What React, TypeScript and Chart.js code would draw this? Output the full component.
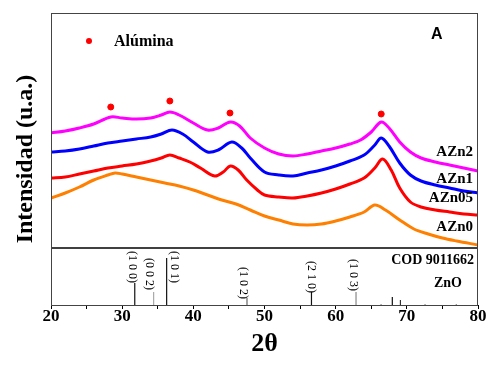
import React, { useEffect, useRef } from 'react';
import { Chart, registerables } from 'chart.js';

Chart.register(...registerables);

// ---- Data (2θ in degrees, intensity in arbitrary offset units) ----
const azn2Deg = [20, 22, 24, 26, 28.4, 30, 32, 34, 35.5, 36.7, 38, 40, 42, 43.5, 45.2, 46.5, 48, 50, 52, 54, 56, 58, 60, 62, 63.5, 65, 66.4, 67.5, 69, 70.5, 72, 74, 76, 78, 80];
const azn2Int = [172, 174, 177, 181, 188, 187, 186, 187, 190, 193, 190, 182, 175, 177, 183, 179, 167, 157, 151, 149, 151, 154, 157, 161, 165, 173, 183, 177, 163, 153, 147, 143, 140, 137, 134];

const azn1Deg = [20, 22, 24, 26, 28, 30, 32, 34, 35.5, 37, 38.5, 40, 42, 43.5, 45.4, 46.8, 48, 50, 52, 54, 56, 58, 60, 62, 64, 65.5, 66.4, 67.5, 69, 70.5, 72, 74, 76, 78, 80];
const azn1Int = [153, 154, 156, 159, 162, 164, 166, 168, 171, 175, 171, 163, 153, 155, 163, 157, 147, 133, 130, 129, 132, 135, 139, 144, 150, 160, 167, 159, 142, 130, 124, 120, 117, 114, 112];

const azn05Deg = [20, 22, 24, 26, 28, 30, 32, 34, 35.5, 36.7, 38, 39.5, 41, 43, 44.2, 45.2, 46.3, 47.5, 49, 50, 52, 54, 56, 58, 60, 62, 64, 65.5, 66.6, 67.8, 69, 70.5, 72, 74, 76, 78, 80];
const azn05Int = [127, 128, 131, 134, 137, 139, 141, 144, 147, 150, 147, 143, 137, 129, 133, 139, 135, 125, 115, 110, 108, 107, 109, 112, 116, 121, 127, 137, 146, 135, 117, 103, 98, 95, 93, 91, 90];

const azn0Deg = [20, 22, 24, 26, 28, 29, 30, 32, 34, 36, 38, 40, 42, 44, 46, 48, 50, 52, 54, 56, 58, 60, 62, 64, 65.5, 67, 69, 71, 73, 75, 77, 80];
const azn0Int = [107, 112, 118, 125, 130, 132, 131, 128, 125, 122, 119, 115, 110, 105, 101, 95, 89, 85, 81, 80, 81, 84, 88, 93, 100, 95, 85, 76, 71, 67, 64, 60];

const aluminaDeg = [28.4, 36.7, 45.15, 66.4];
const aluminaInt = [198, 204, 192, 191];

// ZnO reference pattern (COD 9011662)
const refDeg = [31.77, 34.42, 36.25, 47.54, 56.6, 62.86, 66.38, 67.96, 69.1, 72.56, 76.95];
const refInt = [22, 13, 47, 7, 13, 13, 1, 8, 5, 1, 1];
const hklText = ['(1 0 0)', '(0 0 2)', '(1 0 1)', '(1 0 2)', '(2 1 0)', '(1 0 3)'];

const seriesNames = ['AZn2', 'AZn1', 'AZn05', 'AZn0'];
const xTicks = [20, 30, 40, 50, 60, 70, 80];

// ---- Layout / style (kept apart from the data) ----
const seriesColors = ['#ff00ff', '#0000ff', '#ff0000', '#ff8000'];
const refColors = ['#111', '#aaa', '#111', '#666', '#111', '#888', '#888', '#111', '#333', '#888', '#888'];
const hklLabelDeg = [31.35, 33.77, 37.28, 46.98, 56.53, 62.43];
const hklLabelY = [38, 31, 38, 22, 28, 30];
const seriesLabelY = [153, 126, 107, 78];
const separatorY = 57;
const SERIF = '"Liberation Serif", "Times New Roman", serif';

export default function App() {
  const ref = useRef<HTMLCanvasElement | null>(null);

  useEffect(() => {
    document.body.style.margin = '0';
    const canvas = ref.current;
    if (!canvas) return;

    const lineSets = [
      [azn2Deg, azn2Int],
      [azn1Deg, azn1Int],
      [azn05Deg, azn05Int],
      [azn0Deg, azn0Int],
    ].map(([xs, ys], i) => ({
      type: 'line' as const,
      data: xs.map((x, j) => ({ x, y: ys[j] })),
      borderColor: seriesColors[i],
      borderWidth: 3,
      pointRadius: 0,
      tension: 0.35,
      order: 2,
    }));

    const stickSets = refDeg.map((p, i) => ({
      type: 'line' as const,
      data: [{ x: p, y: 0 }, { x: p, y: refInt[i] }],
      borderColor: refColors[i],
      borderWidth: 1.2,
      pointRadius: 0,
      order: 3,
    }));

    const separator = {
      type: 'line' as const,
      data: [{ x: 20, y: separatorY }, { x: 80, y: separatorY }],
      borderColor: '#000',
      borderWidth: 1.5,
      pointRadius: 0,
      order: 3,
    };

    const dots = {
      type: 'scatter' as const,
      data: aluminaDeg.map((x, i) => ({ x, y: aluminaInt[i] })),
      backgroundColor: '#ff0000',
      borderColor: '#ff0000',
      pointRadius: 3,
      showLine: false,
      order: 1,
    };

    const textPlugin = {
      id: 'texts',
      afterDatasetsDraw(chart: any) {
        const { ctx, chartArea, scales } = chart;
        const xs = scales.x;
        const ys = scales.y;
        ctx.save();
        // frame
        ctx.strokeStyle = '#444';
        ctx.lineWidth = 1;
        ctx.strokeRect(chartArea.left + 0.5, chartArea.top + 0.5, chartArea.right - chartArea.left - 1, chartArea.bottom - chartArea.top);

        // legend
        ctx.fillStyle = '#ff0000';
        ctx.beginPath();
        ctx.arc(chartArea.left + 38, chartArea.top + 28, 3, 0, Math.PI * 2);
        ctx.fill();
        ctx.fillStyle = '#000';
        ctx.font = 'bold 16px ' + SERIF;
        ctx.textAlign = 'left';
        ctx.textBaseline = 'middle';
        ctx.fillText('Alúmina', chartArea.left + 63, chartArea.top + 29);

        // panel letter
        ctx.font = 'bold 16px "Liberation Sans", Arial, sans-serif';
        ctx.fillText('A', chartArea.left + 380, chartArea.top + 22);

        // series labels
        ctx.font = 'bold 15px ' + SERIF;
        ctx.textAlign = 'right';
        seriesNames.forEach((n, i) => {
          ctx.fillText(n, chartArea.right - 5, ys.getPixelForValue(seriesLabelY[i]));
        });

        // reference labels
        ctx.font = 'bold 14px ' + SERIF;
        ctx.fillText('COD 9011662', chartArea.right - 4, ys.getPixelForValue(45));
        ctx.fillText('ZnO', chartArea.right - 16, ys.getPixelForValue(22));

        // hkl labels (vertical)
        ctx.font = '12px ' + SERIF;
        ctx.textAlign = 'center';
        hklText.forEach((t, i) => {
          ctx.save();
          ctx.translate(xs.getPixelForValue(hklLabelDeg[i]), ys.getPixelForValue(hklLabelY[i]));
          ctx.rotate(Math.PI / 2);
          ctx.fillText(t, 0, 0);
          ctx.restore();
        });
        ctx.restore();
      },
    };

    const chart = new Chart(canvas, {
      type: 'line',
      data: { datasets: [...lineSets, dots, separator, ...stickSets] as any },
      options: {
        animation: false,
        responsive: false,
        devicePixelRatio: 1,
        layout: { padding: { top: 13, right: 11, left: 0, bottom: 0 } },
        plugins: { legend: { display: false }, tooltip: { enabled: false } },
        scales: {
          x: {
            type: 'linear',
            min: 20,
            max: 80,
            afterFit: (s: any) => { s.height = 67; },
            afterBuildTicks: (s: any) => {
              const t: any[] = [];
              for (let v = 20; v <= 80; v += 5) t.push({ value: v });
              s.ticks = t;
            },
            grid: { display: true, drawOnChartArea: false, drawTicks: true, tickLength: 4, color: '#000' },
            border: { display: true, color: '#000', width: 1 },
            ticks: {
              padding: -3,
              color: '#000',
              font: { family: SERIF, size: 17, weight: 'bold' },
              callback: (v: any) => (xTicks.includes(Number(v)) ? String(v) : ''),
              maxRotation: 0,
              autoSkip: false,
            },
            title: {
              display: true,
              text: '2θ',
              color: '#000',
              font: { family: SERIF, size: 26, weight: 'bold' },
              padding: { top: 0, bottom: 12 },
            },
          },
          y: {
            type: 'linear',
            min: 0,
            max: 292,
            afterFit: (s: any) => { s.width = 51; },
            grid: { display: false },
            border: { display: true, color: '#000', width: 1 },
            ticks: { display: false },
            title: {
              display: true,
              text: 'Intensidad (u.a.)',
              color: '#000',
              font: { family: SERIF, size: 24, weight: 'bold' },
              padding: { top: 11, bottom: 0 },
            },
          },
        },
      } as any,
      plugins: [textPlugin],
    });

    return () => chart.destroy();
  }, []);

  return (
    <div style={{ width: 489, height: 372, background: '#fff' }}>
      <canvas ref={ref} width={489} height={372} style={{ width: 489, height: 372, display: 'block' }} />
    </div>
  );
}
